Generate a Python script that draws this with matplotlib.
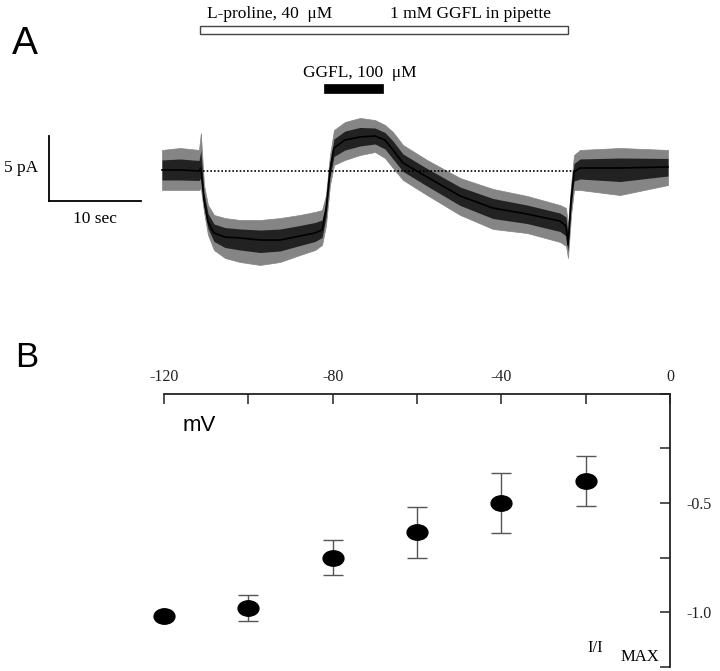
import matplotlib
matplotlib.use("Agg")
import matplotlib.pyplot as plt
import numpy as np
from matplotlib.patches import Rectangle
from matplotlib.path import Path
from matplotlib.transforms import Affine2D

# ---------------- Panel A data (time in s, current in pA) ----------------
trace_t = [0.0, 1.95, 4.0, 4.2, 4.54, 4.97, 5.62, 6.81, 8.43, 10.59, 12.76, 14.92,
           16.54, 17.30, 17.73, 18.16, 18.59, 19.78, 21.41, 23.03, 24.11, 24.97,
           26.05, 28.65, 32.22, 35.78, 39.46, 43.03, 43.68, 43.89, 44.22, 44.54,
           45.19, 49.51, 54.70]
trace_mid = [0.08, 0.08, 0.0, 0.23, -2.23, -3.92, -4.77, -5.08, -5.15, -5.31, -5.31, -5.0,
             -4.77, -4.54, -3.0, 0.08, 1.77, 2.38, 2.62, 2.69, 2.38, 1.62,
             0.62, -0.46, -1.92, -2.85, -3.31, -3.85, -4.23, -5.69, -2.23, -0.08,
             0.23, 0.23, 0.31]
trace_hi = [1.62, 1.77, 1.62, 2.92, -1.08, -2.62, -3.38, -3.62, -3.77, -3.77, -3.62, -3.38,
            -3.15, -3.0, -1.85, 1.23, 3.15, 3.77, 4.08, 3.92, 3.54, 3.0,
            2.0, 0.85, -0.54, -1.38, -1.92, -2.62, -2.85, -4.23, -1.08, 1.23,
            1.62, 1.77, 1.62]
trace_lo = [-1.46, -1.46, -1.46, -1.31, -3.15, -4.92, -6.08, -6.69, -7.0, -7.23, -7.0, -6.46,
            -6.08, -5.69, -4.15, -1.08, 0.46, 0.85, 1.23, 1.46, 1.0, 0.23,
            -0.69, -1.85, -3.38, -4.46, -4.77, -5.46, -5.77, -6.69, -3.38, -1.46,
            -1.46, -1.85, -1.08]
baseline_t = [4.4, 44.9]
proline_on, proline_off = 4.1, 43.9
ggfl_on, ggfl_off = 17.5, 23.9
scale_t, scale_pA = 10, 5

# ---------------- Panel B data ----------------
voltage = [-120, -100, -80, -60, -40, -20]
i_norm = [-1.02, -0.98, -0.75, -0.635, -0.50, -0.40]
i_err = [0.0, 0.06, 0.081, 0.116, 0.136, 0.113]
x_ticks = [-120, -100, -80, -60, -40, -20, 0]
x_ticklabels = ['-120', '', '-80', '', '-40', '', '0']
y_ticks = [-1.25, -1.0, -0.75, -0.5, -0.25, 0]
y_ticklabels = ['', '-1.0', '', '-0.5', '', '']

W, H = 720, 671
fig = plt.figure(figsize=(W / 100, H / 100), dpi=100)
SERIF = 'Liberation Serif'
SANS = 'Liberation Sans'


def fp(x, y):
    return x / W, 1 - y / H


# ---------------- Panel A ----------------
xs, ys = 9.25, 13.0  # px per s, px per pA
x0, y0 = 162, 171
axA = fig.add_axes([0, 1 - 300 / H, 1, 300 / H])
axA.set_xlim(-x0 / xs, (W - x0) / xs)
axA.set_ylim(-(300 - y0) / ys, y0 / ys)
axA.axis('off')

t = np.array(trace_t)
mid = np.array(trace_mid)
hi = np.array(trace_hi)
lo = np.array(trace_lo)
axA.fill_between(t, lo, hi, color='#858585', lw=0.5, edgecolor='#858585')
axA.fill_between(t, mid - 0.5 * (mid - lo), mid + 0.5 * (hi - mid), color='#222222', lw=0)
axA.plot(t, mid, color='black', lw=1.2)
axA.plot(baseline_t, [0, 0], color='black', lw=1.2, linestyle=(0, (1, 1.2)))

# stimulus bars
axA.add_patch(Rectangle((proline_on, 10.54), proline_off - proline_on, 0.62,
                        facecolor='white', edgecolor='#444444', lw=1.0))
axA.add_patch(Rectangle((ggfl_on, 6.0), ggfl_off - ggfl_on, 0.69,
                        facecolor='black', edgecolor='black', lw=0.5))

# scale bars
sb_x = (49 - x0) / xs
sb_y = -(201 - y0) / ys
axA.plot([sb_x, sb_x], [sb_y, sb_y + scale_pA], color='black', lw=1.3)
axA.plot([sb_x, sb_x + scale_t], [sb_y, sb_y], color='black', lw=1.3)

fig.text(*fp(12, 54), 'A', family=SANS, fontsize=28, va='baseline', ha='left')
fig.text(*fp(207, 18), 'L-proline, 40  \u03bcM', family=SERIF, fontsize=12.5, va='baseline', ha='left')
fig.text(*fp(390, 18), '1 mM GGFL in pipette', family=SERIF, fontsize=12.5, va='baseline', ha='left')
fig.text(*fp(303, 77), 'GGFL, 100  \u03bcM', family=SERIF, fontsize=12.5, va='baseline', ha='left')
fig.text(*fp(4, 172), '5 pA', family=SERIF, fontsize=12.5, va='baseline', ha='left')
fig.text(*fp(95, 223), '10 sec', family=SERIF, fontsize=12.5, va='baseline', ha='center')

# ---------------- Panel B ----------------
left, right, top, bottom = 164, 670, 393.7, 666.7
axB = fig.add_axes([left / W, 1 - bottom / H, (right - left) / W, (bottom - top) / H])
axB.set_xlim(-120, 0)
axB.set_ylim(-1.25, 0)
for s in ['left', 'bottom']:
    axB.spines[s].set_visible(False)
for s in ['top', 'right']:
    axB.spines[s].set_linewidth(1.3)
    axB.spines[s].set_color('#222222')
axB.xaxis.tick_top()
axB.yaxis.tick_right()
axB.set_xticks(x_ticks)
axB.set_xticklabels(x_ticklabels, family=SERIF, fontsize=11.5)
axB.set_yticks(y_ticks)
axB.set_yticklabels(y_ticklabels, family=SERIF, fontsize=11.5)
axB.tick_params(axis='x', direction='in', length=7, width=1.1, pad=6, colors='#222222')
axB.tick_params(axis='y', direction='in', length=7, width=1.1, pad=12, colors='#222222')
axB.patch.set_visible(False)

ellipse = Path.unit_circle().transformed(Affine2D().scale(1.0, 0.74))
axB.errorbar(voltage, i_norm, yerr=i_err, fmt='none', ecolor='#555555',
             elinewidth=1.0, capsize=7, capthick=1.0, clip_on=False)
axB.plot(voltage, i_norm, linestyle='none', marker=ellipse, markersize=15,
         color='black', clip_on=False)

fig.text(*fp(15, 367), 'B', family=SANS, fontsize=25, va='baseline', ha='left')
fig.text(*fp(183, 431), 'mV', family=SANS, fontsize=16, va='baseline', ha='left')
fig.text(*fp(587, 652), 'I/I', family=SERIF, fontsize=12, va='baseline', ha='left')
fig.text(*fp(621, 661), 'MAX', family=SERIF, fontsize=12, va='baseline', ha='left')

fig.savefig('out.png', dpi=100)
